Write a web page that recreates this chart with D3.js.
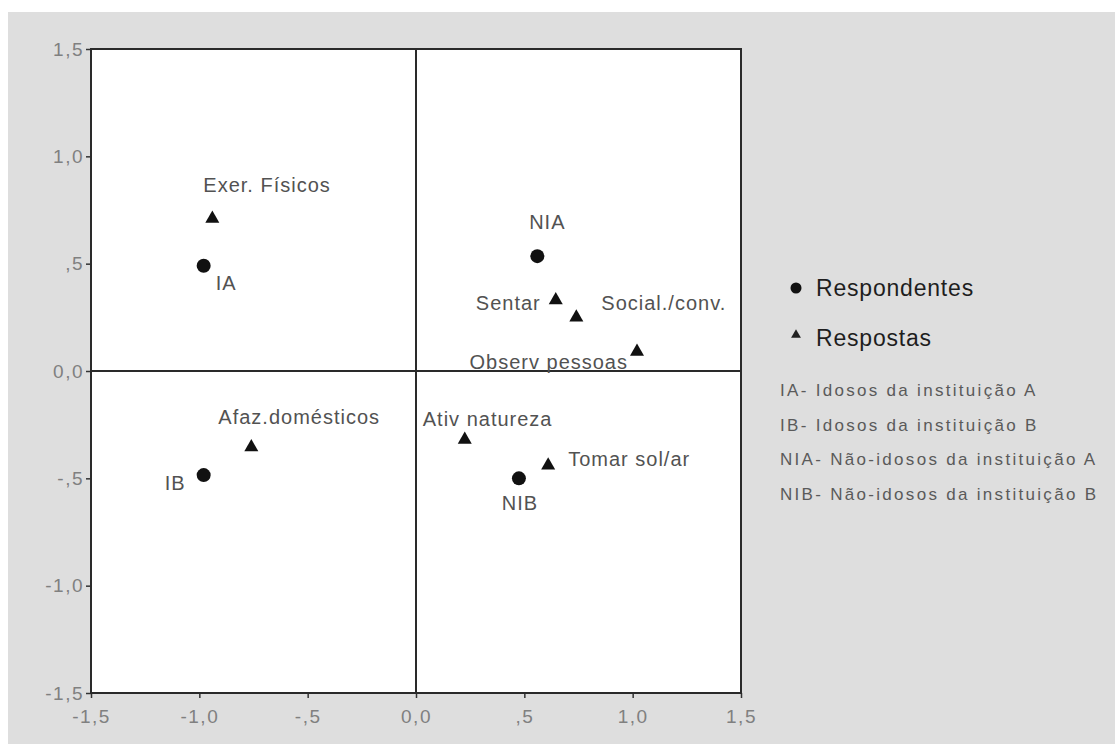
<!DOCTYPE html>
<html>
<head>
<meta charset="utf-8">
<script src="https://cdn.jsdelivr.net/npm/d3@7"></script>
<style>
  html, body { margin: 0; padding: 0; background: #ffffff; }
  svg { display: block; font-family: "Liberation Sans", Arial, sans-serif; }
</style>
</head>
<body>
<svg id="chart" width="1115" height="744"></svg>
<script>
// Correspondence analysis map: respondents (circles) and answers (triangles)
const respondentNames = ["IA", "IB", "NIA", "NIB"];
const respondentX = [-0.98, -0.98, 0.56, 0.475];
const respondentY = [0.49, -0.485, 0.535, -0.50];

const responseNames = ["Exer. Físicos", "Sentar", "Social./conv.", "Observ pessoas",
                       "Afaz.domésticos", "Ativ natureza", "Tomar sol/ar"];
const responseX = [-0.94, 0.645, 0.74, 1.02, -0.76, 0.225, 0.61];
const responseY = [0.71, 0.33, 0.25, 0.09, -0.355, -0.32, -0.44];

const tickValues = [-1.5, -1.0, -0.5, 0.0, 0.5, 1.0, 1.5];
const tickLabels = ["-1,5", "-1,0", "-,5", "0,0", ",5", "1,0", "1,5"];

const legendSeries = ["Respondentes", "Respostas"];
const legendNotes = ["IA- Idosos da instituição A", "IB- Idosos da instituição B",
                     "NIA- Não-idosos da instituição A", "NIB- Não-idosos da instituição B"];

(function () {
  // label placement around each marker (pixels)
  const labelPlacement = {
    "IA": {dx: 12, dy: 24, anchor: "start"},
    "IB": {dx: -18, dy: 15, anchor: "end"},
    "NIA": {dx: 10, dy: -27, anchor: "middle"},
    "NIB": {dx: 1, dy: 32, anchor: "middle"},
    "Exer. Físicos": {dx: -9, dy: -27, anchor: "start"},
    "Sentar": {dx: -15, dy: 10, anchor: "end"},
    "Social./conv.": {dx: 25, dy: -7, anchor: "start"},
    "Observ pessoas": {dx: -9, dy: 17, anchor: "end"},
    "Afaz.domésticos": {dx: -33, dy: -23, anchor: "start"},
    "Ativ natureza": {dx: -42, dy: -14, anchor: "start"},
    "Tomar sol/ar": {dx: 20, dy: 1, anchor: "start"}
  };

  const svg = d3.select("#chart");
  const W = 1115, H = 744;

  // page background
  svg.append("rect").attr("x", 8).attr("y", 12).attr("width", W - 8).attr("height", H - 12)
    .attr("fill", "#dedede");

  const pLeft = 91, pRight = 741, pTop = 49, pBottom = 693;
  const x = d3.scaleLinear().domain([-1.5, 1.5]).range([pLeft, pRight]);
  const y = d3.scaleLinear().domain([-1.5, 1.5]).range([pBottom, pTop]);

  // plot area
  svg.append("rect").attr("x", pLeft).attr("y", pTop)
    .attr("width", pRight - pLeft).attr("height", pBottom - pTop)
    .attr("fill", "#ffffff");

  // axes
  const fmt = d => tickLabels[tickValues.indexOf(d)];
  const xAxis = svg.append("g").attr("transform", `translate(0,${pBottom})`)
    .call(d3.axisBottom(x).tickValues(tickValues).tickFormat(fmt).tickSize(5).tickPadding(12));
  const yAxis = svg.append("g").attr("transform", `translate(${pLeft},0)`)
    .call(d3.axisLeft(y).tickValues(tickValues).tickFormat(fmt).tickSize(5).tickPadding(2));
  [xAxis, yAxis].forEach(a => {
    a.select(".domain").remove();
    a.selectAll(".tick line").attr("stroke", "#333").attr("stroke-width", 1.5);
    a.selectAll(".tick text").attr("fill", "#808080")
      .style("font-size", "19px").style("letter-spacing", "1.5px")
      .style("font-family", "'Liberation Sans', Arial, sans-serif");
  });

  // frame
  svg.append("rect").attr("x", pLeft).attr("y", pTop)
    .attr("width", pRight - pLeft).attr("height", pBottom - pTop)
    .attr("fill", "none").attr("stroke", "#2a2a2a").attr("stroke-width", 2);

  // reference lines through the origin
  svg.append("line").attr("x1", x(0)).attr("x2", x(0)).attr("y1", pTop).attr("y2", pBottom)
    .attr("stroke", "#2a2a2a").attr("stroke-width", 2);
  svg.append("line").attr("x1", pLeft).attr("x2", pRight).attr("y1", y(0)).attr("y2", y(0))
    .attr("stroke", "#2a2a2a").attr("stroke-width", 2);

  const respondents = respondentNames.map((n, i) => ({name: n, x: respondentX[i], y: respondentY[i]}));
  const responses = responseNames.map((n, i) => ({name: n, x: responseX[i], y: responseY[i]}));

  const tri = d3.symbol().type(d3.symbolTriangle).size(85);
  const triSmall = d3.symbol().type(d3.symbolTriangle).size(42);

  svg.append("g").selectAll("circle").data(respondents).join("circle")
    .attr("cx", d => x(d.x)).attr("cy", d => y(d.y)).attr("r", 7).attr("fill", "#111");

  svg.append("g").selectAll("path").data(responses).join("path")
    .attr("d", tri).attr("transform", d => `translate(${x(d.x)},${y(d.y)})`).attr("fill", "#111");

  // point labels
  svg.append("g").selectAll("text").data(respondents.concat(responses)).join("text")
    .attr("x", d => x(d.x) + labelPlacement[d.name].dx)
    .attr("y", d => y(d.y) + labelPlacement[d.name].dy)
    .attr("text-anchor", d => labelPlacement[d.name].anchor)
    .attr("fill", "#525252").style("font-size", "20px").style("letter-spacing", "1px")
    .text(d => d.name);

  // legend
  const lg = svg.append("g");
  lg.append("circle").attr("cx", 796).attr("cy", 288).attr("r", 5.5).attr("fill", "#111");
  lg.append("path").attr("d", triSmall).attr("transform", "translate(796,335)").attr("fill", "#222");
  lg.selectAll("text.series").data(legendSeries).join("text").attr("class", "series")
    .attr("x", 816).attr("y", (d, i) => 296 + i * 50)
    .attr("fill", "#1e1e1e").style("font-size", "23px").style("letter-spacing", "0.8px")
    .text(d => d);
  lg.selectAll("text.note").data(legendNotes).join("text").attr("class", "note")
    .attr("x", 780).attr("y", (d, i) => 396 + i * 34.5)
    .attr("fill", "#5a5a5a").style("font-size", "17px").style("letter-spacing", "2.3px")
    .text(d => d);
})();
</script>
</body>
</html>
